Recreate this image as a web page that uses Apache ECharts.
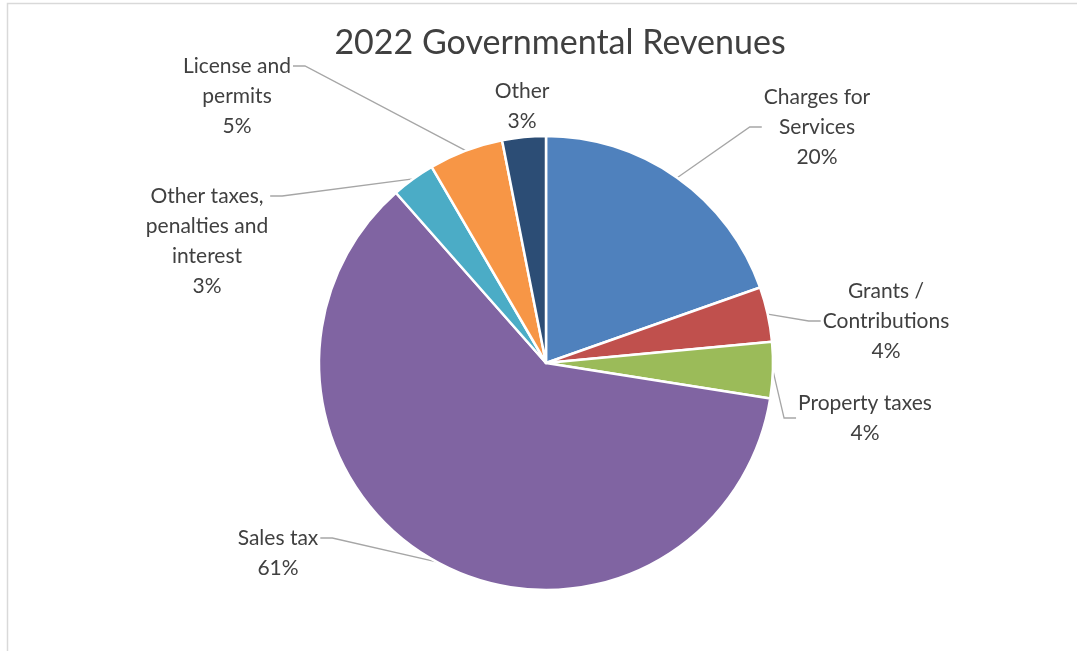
<!DOCTYPE html>
<html>
<head>
<meta charset="utf-8">
<script src="https://cdn.jsdelivr.net/npm/echarts@6/dist/echarts.min.js"></script>
<style>
  html, body { margin: 0; padding: 0; background: #ffffff; }
  #chart { width: 1077px; height: 651px; }
</style>
</head>
<body>
<div id="chart"></div>
<script>
// ---- data ----
const titleText = '2022 Governmental Revenues';
const categories = ['Charges for Services', 'Grants / Contributions', 'Property taxes', 'Sales tax',
  'Other taxes, penalties and interest', 'License and permits', 'Other'];
const labelLines = ['Charges for\nServices', 'Grants /\nContributions', 'Property taxes', 'Sales tax',
  'Other taxes,\npenalties and\ninterest', 'License and\npermits', 'Other'];
const values = [19.6, 3.9, 4.0, 61.0, 3.1, 5.3, 3.1];

// ---- styles / layout ----
const colors = ['#4F81BD', '#C0504D', '#9BBB59', '#8064A2', '#4BACC6', '#F79646', '#2C4D75'];
const pieCenter = [546, 363];
const pieRadius = 227;
const labelCenters = [[817, 127], [886, 321], [865, 418], [278, 553], [207, 241], [237, 96], [522, 106]];
const showLeader = [true, true, true, true, true, true, false];
const lineH = 30;
const fontFamily = 'Lato, "Open Sans", sans-serif';

const chart = echarts.init(document.getElementById('chart'));
chart.setOption({
  backgroundColor: '#ffffff',
  animation: false,
  graphic: [
    {
      type: 'rect',
      shape: { x: 7.5, y: 3.5, width: 1100, height: 700 },
      style: { fill: 'none', stroke: '#d9d9d9', lineWidth: 1.5 },
      silent: true
    },
    {
      type: 'text',
      style: {
        text: titleText, x: 560, y: 43, textAlign: 'center', textVerticalAlign: 'middle',
        font: '34px ' + fontFamily, fill: '#404040'
      }
    }
  ],
  series: [{
    type: 'pie',
    center: pieCenter,
    radius: pieRadius,
    startAngle: 90,
    clockwise: true,
    percentPrecision: 0,
    avoidLabelOverlap: false,
    itemStyle: { borderColor: '#ffffff', borderWidth: 2.5 },
    label: {
      show: true,
      position: 'outside',
      formatter: function (p) { return labelLines[p.dataIndex] + '\n' + p.percent + '%'; },
      fontFamily: fontFamily,
      fontSize: 21,
      lineHeight: lineH,
      color: '#404040'
    },
    labelLine: { show: true, length: 15, length2: 10, lineStyle: { color: '#a6a6a6', width: 1.3 } },
    labelLayout: function (params) {
      const i = params.dataIndex;
      const pos = labelCenters[i];
      const w = params.labelRect.width, h = params.labelRect.height;
      const res = { x: pos[0], y: pos[1], align: 'center', verticalAlign: 'middle' };
      const pts = params.labelLinePoints;
      if (pts && showLeader[i]) {
        const onRight = pos[0] > pieCenter[0];
        let end;
        if (onRight) end = [pos[0] - w / 2 - 2, pos[1]];
        else end = [pos[0] + w / 2 + 2, pos[1] - h / 2 + lineH / 2];
        const bend = [end[0] + (onRight ? -12 : 12), end[1]];
        res.labelLinePoints = [pts[0], bend, end];
      }
      return res;
    },
    data: categories.map(function (c, i) {
      return {
        name: c,
        value: values[i],
        itemStyle: { color: colors[i] },
        labelLine: { show: showLeader[i] }
      };
    })
  }]
});
</script>
</body>
</html>
